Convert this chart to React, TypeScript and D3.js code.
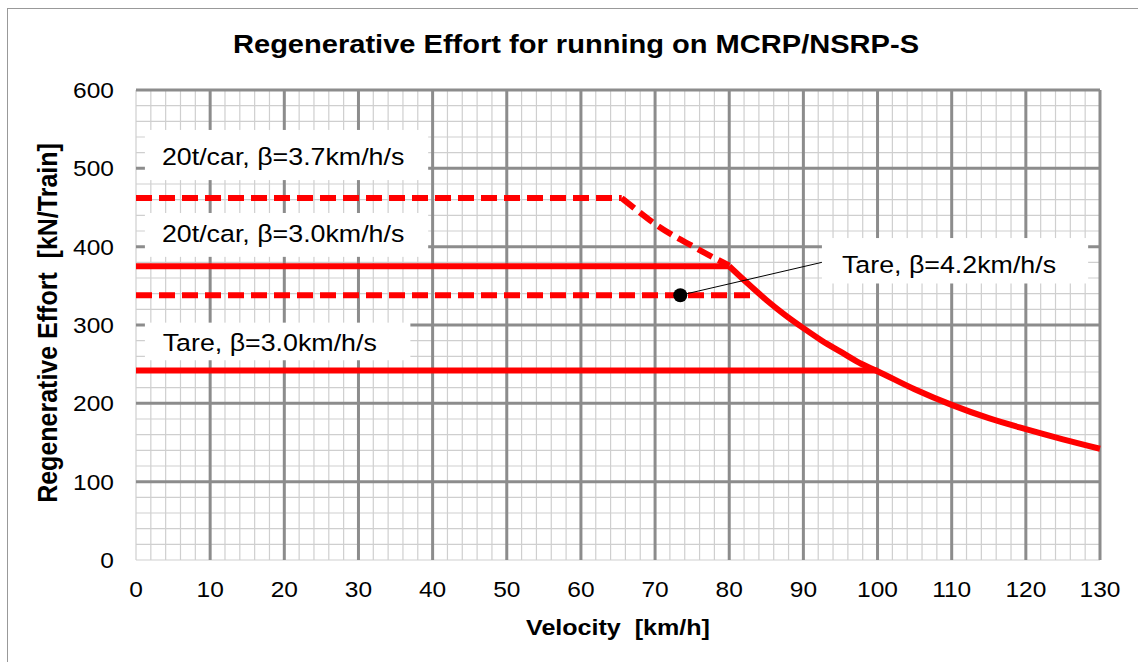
import * as d3 from "d3";

const WIDTH = 1138;
const HEIGHT = 662;
const PLOT = { left: 136, right: 1100, top: 90, bottom: 560 };
const SX = 1.14; // the original picture is stretched sideways
const FONT = "'Liberation Sans', Arial, sans-serif";
const RED = "#ff0000";

// series (velocity km/h, effort kN/Train)
const loaded30: [number, number][] = [
  [0, 375], [80, 375], [82.5, 353], [85, 332], [87.5, 313], [90, 296],
  [92.5, 280], [95, 266], [97.5, 252], [100, 241], [105, 218], [110, 198],
  [115, 181], [120, 167], [125, 154], [130, 142],
];
const loaded37: [number, number][] = [
  [0, 462], [65.5, 462], [67.5, 447], [70, 429], [72.5, 414], [75, 401],
  [77.5, 388], [80, 376],
];
const tare42: [number, number][] = [[0, 338], [83.7, 338]];
const tare30: [number, number][] = [[0, 242], [100, 242]];

const xTicks = d3.range(0, 131, 10);
const yTicks = d3.range(0, 601, 100);
const xMinor = d3.range(0, 131, 2);
const yMinor = d3.range(0, 601, 20);

// label boxes in data units: box = [x0, x1, yTop, yBottom], at = text start
const labels = [
  { text: "20t/car, β=3.7km/h/s", box: [1.2, 39.4, 549, 485], at: [3.5, 504] },
  { text: "20t/car, β=3.0km/h/s", box: [1.2, 39.4, 443, 387], at: [3.5, 406] },
  { text: "Tare, β=3.0km/h/s", box: [1.2, 37, 303, 255], at: [3.6, 267] },
  { text: "Tare, β=4.2km/h/s", box: [92.5, 128.4, 411, 353], at: [95.2, 366] },
];
const markerPoint: [number, number] = [73.4, 338];
const leaderEnd: [number, number] = [92.5, 380];

const SText = ({ x, y, size, bold, anchor, children, rotate }: any) => (
  <text
    transform={`translate(${x},${y}) scale(${SX},1)${rotate ? ` rotate(${rotate})` : ""}`}
    fontFamily={FONT}
    fontSize={size}
    fontWeight={bold ? "bold" : "normal"}
    textAnchor={anchor ?? "start"}
    fill="#000"
  >
    {children}
  </text>
);

export default function App() {
  const x = d3.scaleLinear().domain([0, 130]).range([PLOT.left, PLOT.right]);
  const y = d3.scaleLinear().domain([0, 600]).range([PLOT.bottom, PLOT.top]);
  const line = d3
    .line<[number, number]>()
    .x((d) => x(d[0]))
    .y((d) => y(d[1]));
  const smooth = d3
    .line<[number, number]>()
    .x((d) => x(d[0]))
    .y((d) => y(d[1]))
    .curve(d3.curveMonotoneX);

  return (
    <svg
      width={WIDTH}
      height={HEIGHT}
      style={{ position: "absolute", left: 0, top: 0, background: "#fff" }}
    >
      <rect x={7.5} y={8.5} width={1160} height={700} fill="#fff" stroke="#999" />

      {/* minor grid */}
      {xMinor.map((v) => (
        <line key={"xm" + v} x1={x(v)} x2={x(v)} y1={PLOT.top} y2={PLOT.bottom} stroke="#cfcfcf" strokeWidth={1.2} />
      ))}
      {yMinor.map((v) => (
        <line key={"ym" + v} x1={PLOT.left} x2={PLOT.right} y1={y(v)} y2={y(v)} stroke="#cfcfcf" strokeWidth={1.2} />
      ))}
      {/* major grid */}
      {xTicks.filter((v) => v > 0).map((v) => (
        <line key={"xM" + v} x1={x(v)} x2={x(v)} y1={PLOT.top} y2={PLOT.bottom} stroke="#8c8c8c" strokeWidth={3} />
      ))}
      {yTicks.filter((v) => v > 0).map((v) => (
        <line key={"yM" + v} x1={PLOT.left} x2={PLOT.right} y1={y(v)} y2={y(v)} stroke="#8c8c8c" strokeWidth={3} />
      ))}

      {/* series */}
      <path d={line(tare30) ?? ""} fill="none" stroke={RED} strokeWidth={6} />
      <path d={line(tare42) ?? ""} fill="none" stroke={RED} strokeWidth={6} strokeDasharray="16 7" />
      <path d={line(loaded37.slice(0, 2)) ?? ""} fill="none" stroke={RED} strokeWidth={6} strokeDasharray="16 7" />
      <path d={smooth(loaded37.slice(1)) ?? ""} fill="none" stroke={RED} strokeWidth={6} strokeDasharray="16 7" />
      <path d={line(loaded30.slice(0, 2)) ?? ""} fill="none" stroke={RED} strokeWidth={6} />
      <path d={smooth(loaded30.slice(1)) ?? ""} fill="none" stroke={RED} strokeWidth={6} strokeLinejoin="round" />

      {/* leader + marker */}
      <line
        x1={x(markerPoint[0])}
        y1={y(markerPoint[1])}
        x2={x(leaderEnd[0])}
        y2={y(leaderEnd[1])}
        stroke="#000"
        strokeWidth={1}
      />
      <circle cx={x(markerPoint[0])} cy={y(markerPoint[1])} r={7} fill="#000" />

      {/* data labels */}
      {labels.map((l) => (
        <g key={l.text}>
          <rect
            x={x(l.box[0])}
            y={y(l.box[2])}
            width={x(l.box[1]) - x(l.box[0])}
            height={y(l.box[3]) - y(l.box[2])}
            fill="#fff"
          />
          <SText x={x(l.at[0])} y={y(l.at[1])} size={23.5}>
            {l.text}
          </SText>
        </g>
      ))}

      {/* ticks */}
      {yTicks.map((v) => (
        <SText key={"yt" + v} x={114} y={y(v) + 8} size={21.5} anchor="end">
          {v}
        </SText>
      ))}
      {xTicks.map((v) => (
        <SText key={"xt" + v} x={x(v)} y={597} size={21.5} anchor="middle">
          {v}
        </SText>
      ))}

      {/* titles */}
      <SText x={576} y={53} size={25.5} bold anchor="middle">
        Regenerative Effort for running on MCRP/NSRP-S
      </SText>
      <SText x={(PLOT.left + PLOT.right) / 2} y={635} size={22} bold anchor="middle">
        {"Velocity\u00a0\u00a0[km/h]"}
      </SText>
      <SText x={57} y={(PLOT.top + PLOT.bottom) / 2 - 2} size={25} bold anchor="middle" rotate={-90}>
        {"Regenerative Effort\u00a0\u00a0[kN/Train]"}
      </SText>
    </svg>
  );
}
